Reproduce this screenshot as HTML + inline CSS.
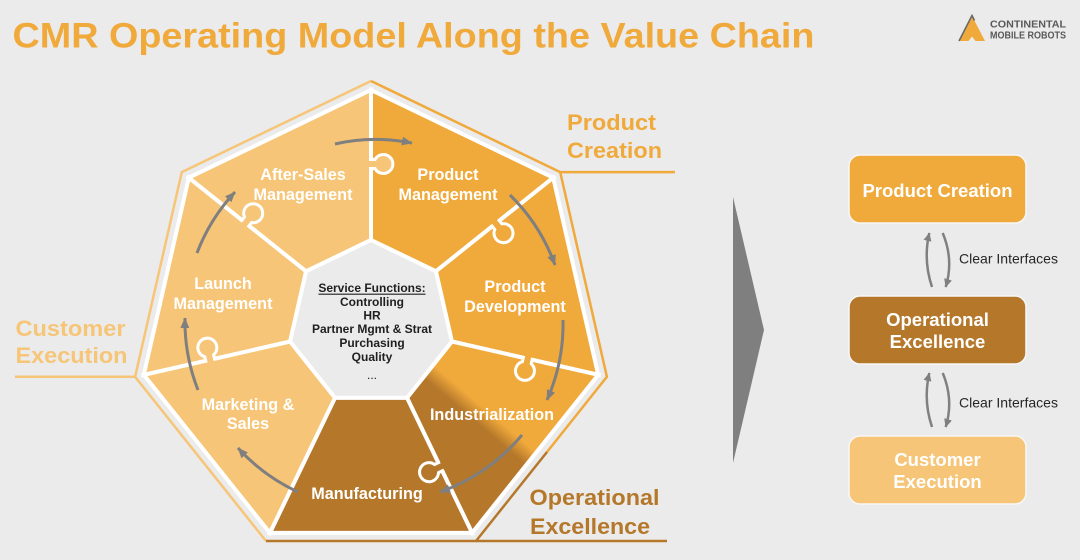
<!DOCTYPE html>
<html>
<head>
<meta charset="utf-8">
<style>
html,body{margin:0;padding:0;background:#EBEBEB;}
svg{display:block;}
text{font-family:"Liberation Sans",Arial,sans-serif;}
</style>
</head>
<body>
<svg width="1080" height="560" viewBox="0 0 1080 560" xmlns="http://www.w3.org/2000/svg">
  <defs>
    <marker id="ah" markerWidth="11" markerHeight="10" refX="10" refY="5" orient="auto" markerUnits="userSpaceOnUse">
      <path d="M0,0.6 L10.5,5 L0,9.4 z" fill="#7F7F7F"/>
    </marker>
    <marker id="ah2" markerWidth="9" markerHeight="9" refX="8" refY="4.5" orient="auto" markerUnits="userSpaceOnUse">
      <path d="M0,0.5 L8.5,4.5 L0,8.5 z" fill="#808080"/>
    </marker>
    <linearGradient id="ind" gradientUnits="userSpaceOnUse" x1="475.8" y1="422.1" x2="486.2" y2="409.9">
      <stop offset="0" stop-color="#B5782B"/>
      <stop offset="1" stop-color="#F0A93B"/>
    </linearGradient>
  </defs>

  <rect x="0" y="0" width="1080" height="560" fill="#EBEBEB"/>

  <!-- Title -->
  <text x="12.5" y="47.7" font-size="35.5" font-weight="bold" fill="#F0A93B" textLength="802" lengthAdjust="spacingAndGlyphs">CMR Operating Model Along the Value Chain</text>

  <!-- Logo -->
  <polygon points="972,16 959,41 968.5,41 972,36.5 975.5,41 985,41" fill="#F0A93B"/>
  <polyline points="959,41 972,15.5 974.5,20.5" fill="none" stroke="#6A6A6A" stroke-width="1.6"/>
  <text x="990" y="27.5" font-size="10.5" font-weight="bold" fill="#595959" textLength="76" lengthAdjust="spacingAndGlyphs">CONTINENTAL</text>
  <text x="990" y="38.5" font-size="10.5" font-weight="bold" fill="#595959" textLength="76" lengthAdjust="spacingAndGlyphs">MOBILE ROBOTS</text>

  <!-- Outline segments -->
  <polyline points="371,81 181.8,172.1 135.1,376.8 266,541" fill="none" stroke="#F6C577" stroke-width="2.5"/>
  <line x1="135.1" y1="376.8" x2="15" y2="376.8" stroke="#F6C577" stroke-width="2.5"/>
  <polyline points="371,81 560.2,172.1 606.9,376.8 547,452" fill="none" stroke="#F0A93B" stroke-width="2.5"/>
  <line x1="560.2" y1="172.1" x2="675" y2="172.1" stroke="#F0A93B" stroke-width="2.5"/>
  <polyline points="547,452 476,541 266,541" fill="none" stroke="#B5782B" stroke-width="2.5"/>
  <line x1="476" y1="541" x2="667" y2="541" stroke="#B5782B" stroke-width="2.5"/>

  <!-- White base heptagon -->
  <polygon points="371,88 554.7,176.5 600.1,375.3 473,534.7 269,534.7 141.9,375.3 187.3,176.5" fill="#FFFFFF"/>

  <!-- Pieces -->
  <g stroke="#FFFFFF" stroke-width="4" stroke-linejoin="miter">
    <polygon points="371,240 435.9,271.3 553.2,177.7 371,90" fill="#F0A93B"/>
    <polygon points="435.9,271.3 451.9,341.5 598.2,374.8 553.2,177.7" fill="#F0A93B"/>
    <polygon points="451.9,341.5 407,397.8 472.1,532.9 598.2,374.8" fill="url(#ind)"/>
    <polygon points="407,397.8 335,397.8 269.9,532.9 472.1,532.9" fill="#B5782B"/>
    <polygon points="335,397.8 290.1,341.5 143.8,374.8 269.9,532.9" fill="#F6C577"/>
    <polygon points="290.1,341.5 306.1,271.3 188.8,177.7 143.8,374.8" fill="#F6C577"/>
    <polygon points="306.1,271.3 371,240 371,90 188.8,177.7" fill="#F6C577"/>
    <polygon points="371,240 435.9,271.3 451.9,341.5 407,397.8 335,397.8 290.1,341.5 306.1,271.3" fill="#EBEBEB"/>
  </g>

  <!-- Puzzle knobs -->
  <g>
    <g transform="translate(371,164) rotate(-90)">
      <path d="M -4.5,-2.5 L -4.5,4 A 9.5 9.5 0 1 0 4.5,4 L 4.5,-2.5 Z" fill="#F6C577"/>
      <path d="M -4.5,-2 L -4.5,4 A 9.5 9.5 0 1 0 4.5,4 L 4.5,-2" fill="none" stroke="#FFFFFF" stroke-width="3"/>
    </g>
    <g transform="translate(495.8,223.5) rotate(-38.6)">
      <path d="M -4.5,-2.5 L -4.5,4 A 9.5 9.5 0 1 0 4.5,4 L 4.5,-2.5 Z" fill="#F0A93B"/>
      <path d="M -4.5,-2 L -4.5,4 A 9.5 9.5 0 1 0 4.5,4 L 4.5,-2" fill="none" stroke="#FFFFFF" stroke-width="3"/>
    </g>
    <g transform="translate(245.5,222.9) rotate(-141.4)">
      <path d="M -4.5,-2.5 L -4.5,4 A 9.5 9.5 0 1 0 4.5,4 L 4.5,-2.5 Z" fill="#F6C577"/>
      <path d="M -4.5,-2 L -4.5,4 A 9.5 9.5 0 1 0 4.5,4 L 4.5,-2" fill="none" stroke="#FFFFFF" stroke-width="3"/>
    </g>
    <g transform="translate(210.1,359.7) rotate(167.2)">
      <path d="M -4.5,-2.5 L -4.5,4 A 9.5 9.5 0 1 0 4.5,4 L 4.5,-2.5 Z" fill="#F6C577"/>
      <path d="M -4.5,-2 L -4.5,4 A 9.5 9.5 0 1 0 4.5,4 L 4.5,-2" fill="none" stroke="#FFFFFF" stroke-width="3"/>
    </g>
    <g transform="translate(527.7,358.8) rotate(12.8)">
      <path d="M -4.5,-2.5 L -4.5,4 A 9.5 9.5 0 1 0 4.5,4 L 4.5,-2.5 Z" fill="#F0A93B"/>
      <path d="M -4.5,-2 L -4.5,4 A 9.5 9.5 0 1 0 4.5,4 L 4.5,-2" fill="none" stroke="#FFFFFF" stroke-width="3"/>
    </g>
    <g transform="translate(440.2,466.8) rotate(64.3)">
      <path d="M -4.5,-2.5 L -4.5,4 A 9.5 9.5 0 1 0 4.5,4 L 4.5,-2.5 Z" fill="#B5782B"/>
      <path d="M -4.5,-2 L -4.5,4 A 9.5 9.5 0 1 0 4.5,4 L 4.5,-2" fill="none" stroke="#FFFFFF" stroke-width="3"/>
    </g>
  </g>

  <!-- Cycle arrows -->
  <g fill="none" stroke="#7F7F7F" stroke-width="3" marker-end="url(#ah)">
    <path d="M335,144 A187,187 0 0 1 412,143"/>
    <path d="M510,195 A187,187 0 0 1 555,265"/>
    <path d="M563,320 A187,187 0 0 1 547,400"/>
    <path d="M522,435 A187,187 0 0 1 440,492"/>
    <path d="M298,492 A187,187 0 0 1 238,448"/>
    <path d="M198,390 A187,187 0 0 1 185,318"/>
    <path d="M197,253 A187,187 0 0 1 235,192"/>
  </g>

  <!-- Piece labels -->
  <g font-size="16.2" font-weight="bold" fill="#FFFFFF" text-anchor="middle">
    <text x="303" y="180">After-Sales</text>
    <text x="303" y="200">Management</text>
    <text x="448" y="180">Product</text>
    <text x="448" y="200">Management</text>
    <text x="515" y="292">Product</text>
    <text x="515" y="312">Development</text>
    <text x="223" y="289">Launch</text>
    <text x="223" y="309">Management</text>
    <text x="248" y="410">Marketing &amp;</text>
    <text x="248" y="429">Sales</text>
    <text x="492" y="420">Industrialization</text>
    <text x="367" y="499">Manufacturing</text>
  </g>

  <!-- Center service functions -->
  <g font-size="12" font-weight="bold" fill="#1F1F1F" text-anchor="middle">
    <text x="372" y="292">Service Functions:</text>
    <text x="372" y="306">Controlling</text>
    <text x="372" y="319.5">HR</text>
    <text x="372" y="333">Partner Mgmt &amp; Strat</text>
    <text x="372" y="347">Purchasing</text>
    <text x="372" y="361">Quality</text>
    <text x="372" y="379" font-weight="normal">...</text>
  </g>
  <line x1="318.5" y1="294.2" x2="425.5" y2="294.2" stroke="#1F1F1F" stroke-width="1.1"/>

  <!-- Side labels -->
  <g font-size="22.5" font-weight="bold">
    <text x="567" y="130" fill="#F0A93B" textLength="89" lengthAdjust="spacingAndGlyphs">Product</text>
    <text x="567" y="158" fill="#F0A93B" textLength="95" lengthAdjust="spacingAndGlyphs">Creation</text>
    <text x="15.5" y="336" fill="#F6C577" textLength="110" lengthAdjust="spacingAndGlyphs">Customer</text>
    <text x="15.5" y="363" fill="#F6C577" textLength="112" lengthAdjust="spacingAndGlyphs">Execution</text>
    <text x="529.5" y="505" fill="#B5782B" textLength="130" lengthAdjust="spacingAndGlyphs">Operational</text>
    <text x="530" y="534" fill="#B5782B" textLength="120" lengthAdjust="spacingAndGlyphs">Excellence</text>
  </g>

  <!-- Big gray chevron -->
  <polygon points="733,197 733,463 764,330" fill="#7F7F7F"/>

  <!-- Right boxes -->
  <rect x="849" y="155" width="177" height="68" rx="11" ry="11" fill="#F0A93B" stroke="#F7F7F7" stroke-width="1.5"/>
  <rect x="849" y="296" width="177" height="68" rx="11" ry="11" fill="#B5782B" stroke="#F7F7F7" stroke-width="1.5"/>
  <rect x="849" y="436" width="177" height="68" rx="11" ry="11" fill="#F6C577" stroke="#F7F7F7" stroke-width="1.5"/>
  <g font-size="18.5" font-weight="bold" fill="#FFFFFF" text-anchor="middle">
    <text x="937.5" y="197">Product Creation</text>
    <text x="937.5" y="326">Operational</text>
    <text x="937.5" y="348">Excellence</text>
    <text x="937.5" y="466">Customer</text>
    <text x="937.5" y="488">Execution</text>
  </g>

  <!-- Clear interfaces arrows -->
  <g fill="none" stroke="#808080" stroke-width="2.5" marker-end="url(#ah2)">
    <path d="M932,287 Q923,260 929.3,233"/>
    <path d="M942.7,233 Q954,260 945.7,287"/>
    <path d="M932,427 Q923,400 929.3,373"/>
    <path d="M942.7,373 Q954,400 945.7,427"/>
  </g>
  <g font-size="14" fill="#262626">
    <text x="959" y="263.5" textLength="99" lengthAdjust="spacingAndGlyphs">Clear Interfaces</text>
    <text x="959" y="407.5" textLength="99" lengthAdjust="spacingAndGlyphs">Clear Interfaces</text>
  </g>
</svg>
</body>
</html>
